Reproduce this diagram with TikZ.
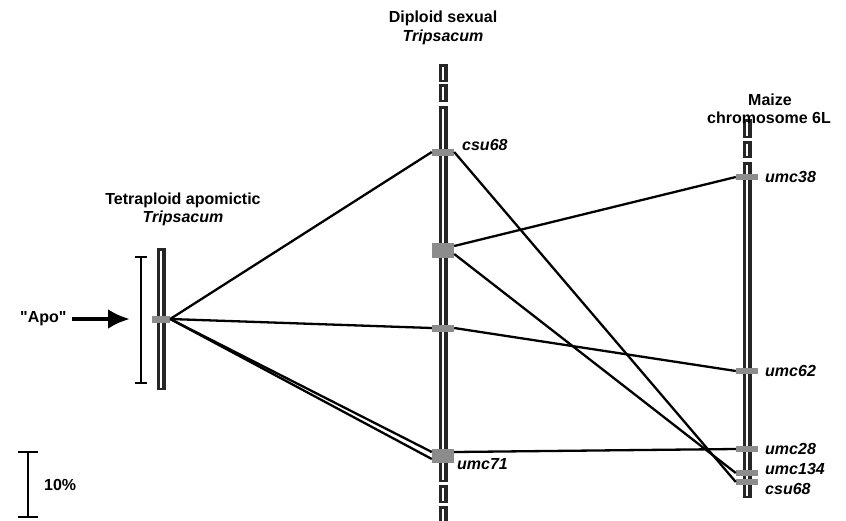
\documentclass[tikz,border=0pt]{standalone}
\usepackage{fontspec}
\setmainfont{Liberation Sans}
\newfontfamily\apofont{Liberation Sans}[Ligatures=TeXOff]
\usepackage{tikz}
\usetikzlibrary{positioning}
\usetikzlibrary{arrows,arrows.meta}
\usetikzlibrary{calc}
\tikzset{
  locus/.style={rectangle, fill=black!45, draw=none, inner sep=0pt, minimum width=22pt, minimum height=7pt},
  link/.style={line width=2.3pt},
  title/.style={font=\fontsize{16}{18}\selectfont\bfseries, inner sep=0pt},
  lab/.style={font=\fontsize{16}{18}\selectfont\bfseries\itshape, inner sep=0pt, anchor=west},
}
% one piece of a chromosome: x, top, bottom
\newcommand{\chromseg}[3]{%
  \fill[black!85] (#1-4.5,#2) rectangle (#1+4.5,#3);
  \draw[white, line width=1.2pt] (#1,#2+2.5) -- (#1,#3-2.5);
}

\begin{document}
\begin{tikzpicture}[x=1pt, y=-1pt]

    \useasboundingbox (0,0) rectangle (846,520);

    % left
    \chromseg{161}{248}{390}
    \draw[line width=1.6pt] (135,257) -- (147,257) (141,257) -- (141,383) (135,383) -- (147,383);
    \node[locus, minimum width=18pt] (apo) at (161,319) {};
    \node[title] (tl1) at (183,200) {Tetraploid apomictic};
    \node[title, font=\fontsize{16}{18}\selectfont\bfseries\itshape] (tl2) at (183,218) {Tripsacum};
    \node[title, anchor=west, font=\fontsize{16}{18}\selectfont\apofont\bfseries] (apolab) at (20,319) {"Apo"};
    \coordinate (arrtip) at (130,319);
    \draw[line width=4.5pt, -{Latex[length=22pt,width=20pt]}] (apolab.east) ++(5,0) -- (arrtip);

    % middle
    \chromseg{443}{64}{82}
    \chromseg{443}{84}{102}
    \chromseg{443}{106}{482}
    \chromseg{443}{485}{503}
    \chromseg{443}{506}{524}
    \node[locus] (m1) at (443,152) {};
    \node[locus, minimum height=15pt] (m2) at (443,250) {};
    \node[locus] (m3) at (443,328) {};
    \node[locus, minimum height=14pt] (m4) at (443,456) {};
    \node[title] (tm1) at (443,18) {Diploid sexual};
    \node[title, font=\fontsize{16}{18}\selectfont\bfseries\itshape] (tm2) at (443,37) {Tripsacum};
    \node[lab] (lm1) at (462,145) {csu68};
    \node[lab] (lm4) at (457,464) {umc71};

    % right
    \chromseg{747}{119}{138}
    \chromseg{747}{141}{158}
    \chromseg{747}{162}{498}
    \node[locus, minimum height=6pt] (r1) at (747,177) {};
    \node[locus, minimum height=6pt] (r2) at (747,371) {};
    \node[locus, minimum height=6pt] (r3) at (747,449) {};
    \node[locus, minimum height=6pt] (r4) at (747,473) {};
    \node[locus, minimum height=6pt] (r5) at (747,482) {};
    \node[title] (tr1) at (770,100) {Maize};
    \node[title] (tr2) at (769,118) {chromosome 6L};
    \node[lab] (lr1) at (765,177) {umc38};
    \node[lab] (lr2) at (765,371) {umc62};
    \node[lab] (lr3) at (765,449) {umc28};
    \node[lab] (lr4) at (765,469) {umc134};
    \node[lab] (lr5) at (765,489) {csu68};

    % links
    \draw[link] (apo.east) -- (m1.west);
    \draw[link] (apo.east) -- (m3.west);
    \draw[link] (apo.east) -- ($(m4.west)+(0,-4)$);
    \draw[link] (apo.east) -- ($(m4.west)+(0,3)$);
    \draw[link] (m1.east) -- (r5.west);
    \draw[link] ($(m2.east)+(0,-4)$) -- (r1.west);
    \draw[link] ($(m2.east)+(0,4)$) -- (r4.west);
    \draw[link] (m3.east) -- (r2.west);
    \draw[link] ($(m4.east)+(0,-4)$) -- (r3.west);

    % scale
    \draw[line width=1.8pt] (18,452) -- (38,452) (28,452) -- (28,517) (18,517) -- (38,517);
    \node[title, anchor=west] (scl) at (44,485) {10\%};

\end{tikzpicture}
\end{document}
